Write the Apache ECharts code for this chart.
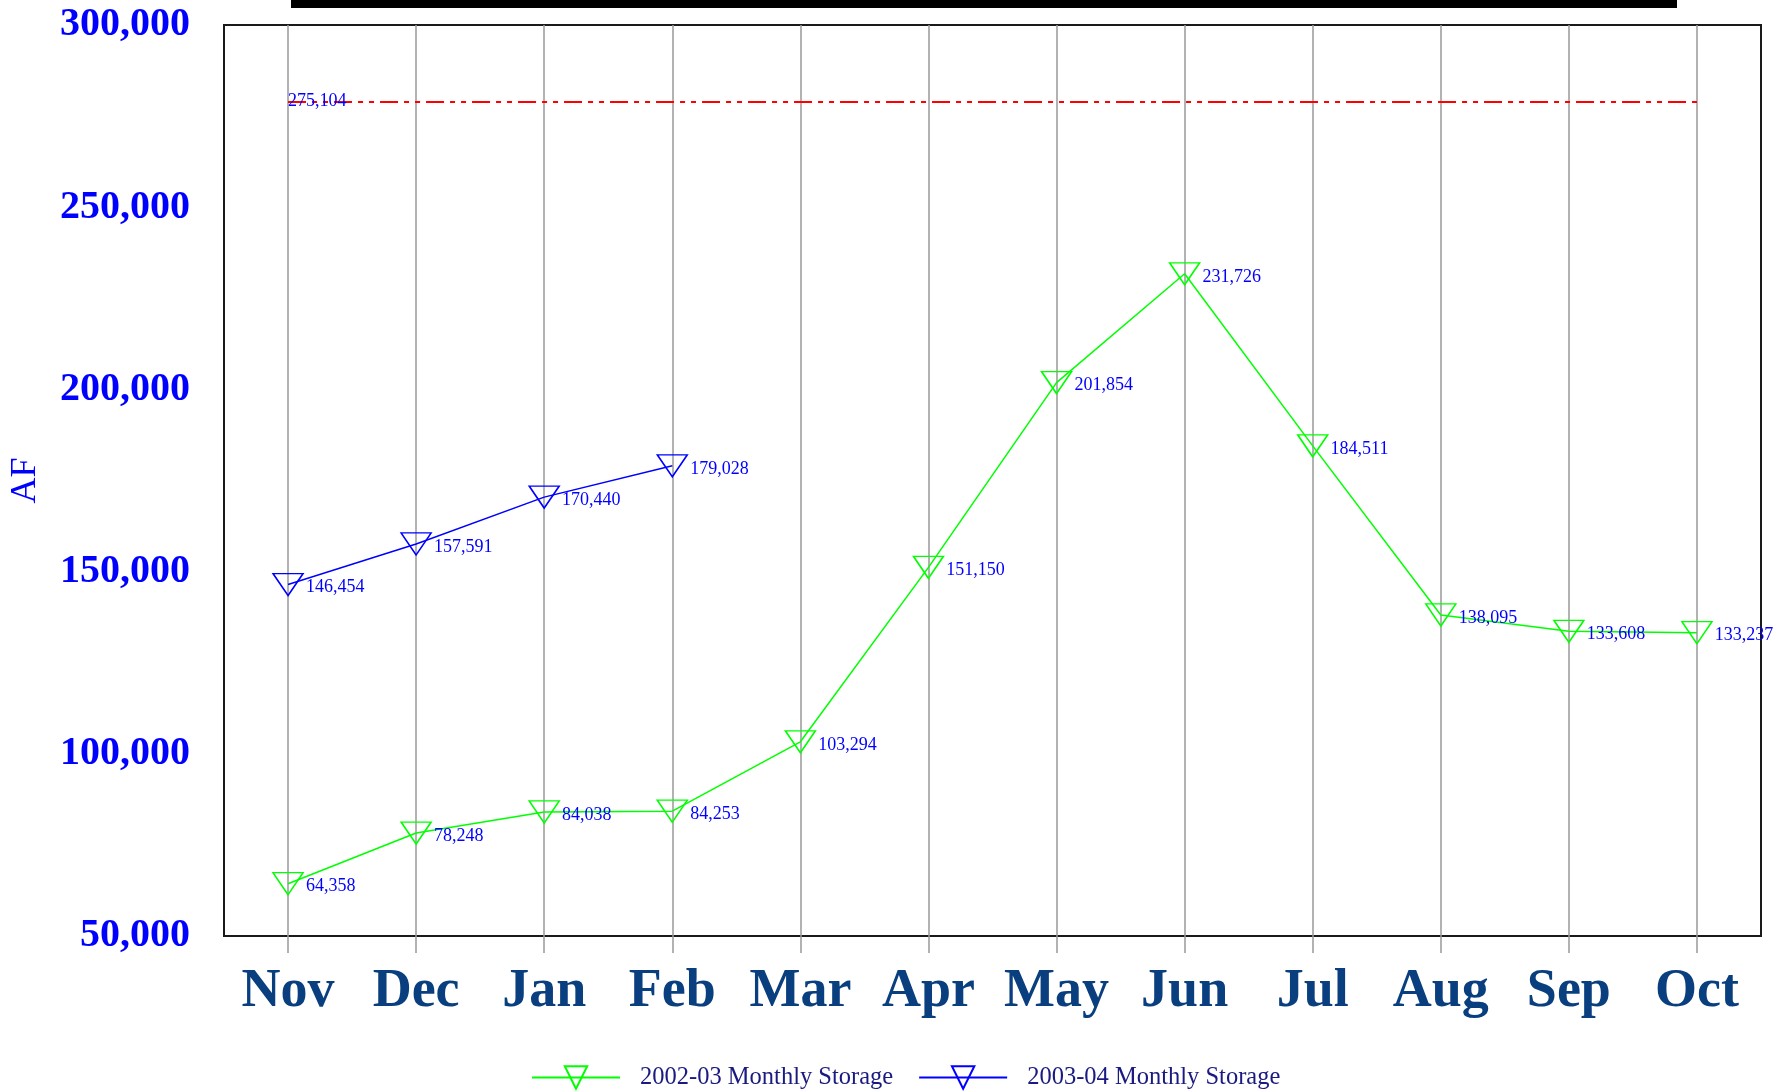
<!DOCTYPE html>
<html>
<head>
<meta charset="utf-8">
<script src="https://cdn.jsdelivr.net/npm/echarts@6/dist/echarts.min.js"></script>
<style>
html,body{margin:0;padding:0;background:#fff;}
#chart{width:1787px;height:1091px;}
</style>
</head>
<body>
<div id="chart"></div>
<script>
var months = ['Nov','Dec','Jan','Feb','Mar','Apr','May','Jun','Jul','Aug','Sep','Oct'];
var storage2002 = [64358, 78248, 84038, 84253, 103294, 151150, 201854, 231726, 184511, 138095, 133608, 133237];
var storage2003 = [146454, 157591, 170440, 179028];
var seriesNames = ['2002-03 Monthly Storage', '2003-04 Monthly Storage'];
var capacityLevel = 279000;
var capacityLabel = '275,104';
var yMin = 50000, yMax = 300000, yInterval = 50000;

var serif = "'Liberation Serif','Times New Roman',serif";
function fmt(v){ return v.toLocaleString('en-US'); }

var labelStyle = {
  show: true, position: 'right', distance: 2, offset: [0, 3],
  color: '#0000ff', fontFamily: serif, fontSize: 18,
  formatter: function(p){ return fmt(p.value); }
};

var chart = echarts.init(document.getElementById('chart'), null, {renderer:'canvas'});
chart.setOption({
  animation: false,
  backgroundColor: '#ffffff',
  grid: {left: 224, right: 26, top: 25, bottom: 155, show: true, borderColor: '#1a1a1a', borderWidth: 2, backgroundColor: 'transparent', containLabel: false},
  graphic: [{type:'rect', shape:{x:291, y:-10, width:1386, height:18}, style:{fill:'#000'}, z: 10}],
  xAxis: [{
    type: 'category', data: months, boundaryGap: true, position: 'bottom',
    axisLine: {show: false},
    axisTick: {show: true, interval: 0, alignWithLabel: true, length: 17, lineStyle: {color: '#999', width: 1.5}},
    axisLabel: {interval: 0, color: '#0a3f7f', fontFamily: serif, fontWeight: 'bold', fontSize: 54, margin: 29},
    splitLine: {show: false}
  },{
    type: 'category', data: months, boundaryGap: true, position: 'top',
    axisLine: {show: false},
    axisTick: {show: true, interval: 0, inside: true, alignWithLabel: true, length: 911, lineStyle: {color: '#999', width: 1.5}},
    axisLabel: {show: false},
    splitLine: {show: false}
  }],
  yAxis: {
    type: 'value', min: yMin, max: yMax, interval: yInterval,
    name: 'AF', nameLocation: 'middle', nameGap: 180, nameRotate: 90,
    nameTextStyle: {color: '#0000ff', fontFamily: serif, fontSize: 36},
    axisLine: {show: false}, axisTick: {show: false}, splitLine: {show: false},
    axisLabel: {color: '#0000ff', fontFamily: serif, fontWeight: 'bold', fontSize: 40, margin: 34, formatter: function(v){ return fmt(v); }}
  },
  legend: {
    bottom: -4, left: 526, itemWidth: 88, itemHeight: 28, itemGap: 25,
    textStyle: {color: '#1a1a80', fontFamily: serif, fontSize: 24.5, padding: [0,0,0,15]},
    data: seriesNames
  },
  series: [{
    name: seriesNames[0], type: 'line', data: storage2002,
    symbol: 'triangle', symbolSize: [30, 22], symbolRotate: 180, showAllSymbol: true,
    itemStyle: {color: 'rgba(0,0,0,0)', borderColor: '#00ff00', borderWidth: 1.5},
    lineStyle: {color: '#00ff00', width: 1.5},
    label: labelStyle,
    emphasis: {disabled: true},
    z: 3,
    markLine: {
      silent: true, symbol: 'none',
      lineStyle: {color: '#ff0000', width: 2, type: [18, 6, 5, 6, 5, 6]},
      label: {show: true, position: 'insideStartTop', distance: 0, offset: [0, 9], color: '#0000ff', fontFamily: serif, fontSize: 18, formatter: capacityLabel},
      data: [[{coord: [months[0], capacityLevel]}, {coord: [months[months.length-1], capacityLevel]}]]
    }
  },{
    name: seriesNames[1], type: 'line', data: storage2003,
    symbol: 'triangle', symbolSize: [30, 22], symbolRotate: 180, showAllSymbol: true,
    itemStyle: {color: 'rgba(0,0,0,0)', borderColor: '#0000ff', borderWidth: 1.5},
    lineStyle: {color: '#0000ff', width: 1.5},
    label: labelStyle,
    emphasis: {disabled: true},
    z: 3
  }]
});
</script>
</body>
</html>
